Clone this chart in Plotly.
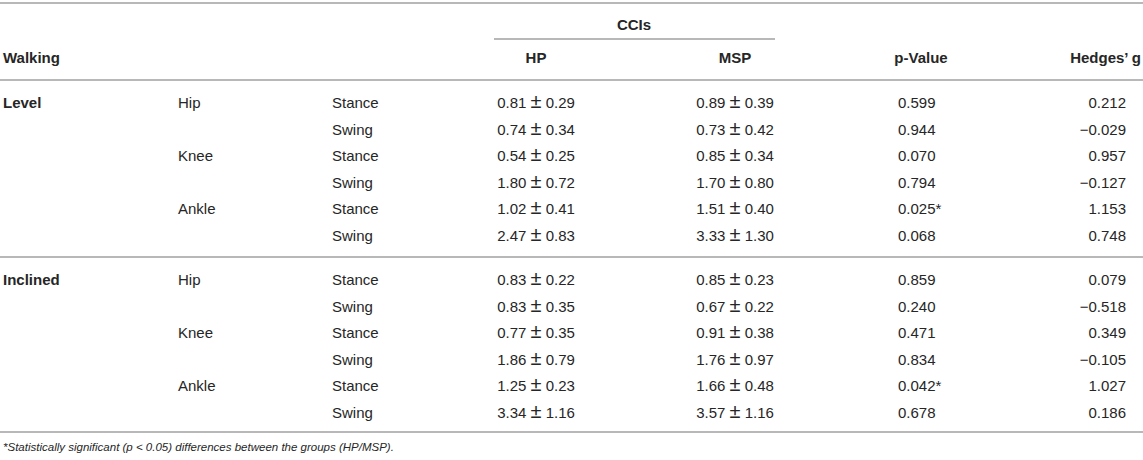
import plotly.graph_objects as go

# table content
groups = ["Level", "Inclined"]
joints = ["Hip", "", "Knee", "", "Ankle", ""]
phases = ["Stance", "Swing", "Stance", "Swing", "Stance", "Swing"]

hp_mean = [[0.81, 0.74, 0.54, 1.80, 1.02, 2.47], [0.83, 0.83, 0.77, 1.86, 1.25, 3.34]]
hp_sd = [[0.29, 0.34, 0.25, 0.72, 0.41, 0.83], [0.22, 0.35, 0.35, 0.79, 0.23, 1.16]]
msp_mean = [[0.89, 0.73, 0.85, 1.70, 1.51, 3.33], [0.85, 0.67, 0.91, 1.76, 1.66, 3.57]]
msp_sd = [[0.39, 0.42, 0.34, 0.80, 0.40, 1.30], [0.23, 0.22, 0.38, 0.97, 0.48, 1.16]]
p_values = [[0.599, 0.944, 0.070, 0.794, 0.025, 0.068], [0.859, 0.240, 0.471, 0.834, 0.042, 0.678]]
hedges_g = [[0.212, -0.029, 0.957, -0.127, 1.153, 0.748], [0.079, -0.518, 0.349, -0.105, 1.027, 0.186]]

footnote = "*Statistically significant (p < 0.05) differences between the groups (HP/MSP)."

W, H = 1143, 460
FONT = "Liberation Sans, Arial, Helvetica, sans-serif"
TXT = "#262626"
LINE = "#b8b8b8"
FS = 15

# layout of the rows / columns (window pixel coords)
group_top = [104.5, 281.5]
row_step = 26.5
head_y, cci_y = 59, 26
col = dict(walk=3, joint=178, phase=332, hp=536, msp=735, p=898, p_head=921, g=1126, g_head=1141)


def fmt(v):
    s = f"{abs(v):.3f}"
    return ("\u2212" + s) if v < 0 else s


def pm(m, s):
    # the ± in the source is drawn a bit larger than the digits
    return f"{m:.2f} <span style='font-size:20px'>\u00b1</span> {s:.2f}"


fig = go.Figure()


def add_text(xs, ys, texts, pos, size=FS, bold=False, italic=False):
    fig.add_trace(go.Scatter(
        x=xs, y=ys, text=texts, mode="text", textposition=pos, cliponaxis=False,
        textfont=dict(family=FONT, size=size, color=TXT,
                      weight="bold" if bold else "normal",
                      style="italic" if italic else "normal"),
        hoverinfo="skip", showlegend=False))


# header
add_text([col["walk"]], [head_y], ["Walking"], "middle right", bold=True)
add_text([634], [cci_y], ["CCIs"], "middle center", bold=True)
add_text([col["hp"], col["msp"], col["p_head"]], [head_y] * 3, ["HP", "MSP", "p-Value"], "middle center", bold=True)
add_text([col["g_head"]], [head_y], ["Hedges\u2019 g"], "middle left", bold=True)

for gi, grp in enumerate(groups):
    ys = [group_top[gi] + i * row_step for i in range(len(phases))]
    add_text([col["walk"]], [ys[0]], [grp], "middle right", bold=True)
    add_text([col["joint"]] * 6, ys, joints, "middle right")
    add_text([col["phase"]] * 6, ys, phases, "middle right")
    add_text([col["hp"]] * 6, ys, [pm(m, s) for m, s in zip(hp_mean[gi], hp_sd[gi])], "middle center")
    add_text([col["msp"]] * 6, ys, [pm(m, s) for m, s in zip(msp_mean[gi], msp_sd[gi])], "middle center")
    add_text([col["p"]] * 6, ys,
             [f"{p:.3f}" + ("*" if p < 0.05 else "") for p in p_values[gi]], "middle right")
    add_text([col["g"]] * 6, ys, [fmt(g) for g in hedges_g[gi]], "middle left")

add_text([col["walk"]], [448], [footnote], "middle right", size=11.5, italic=True)

# rules
for y0, x0, x1 in [(3, 0, W), (39, 494, 775), (80, 0, W), (257, 0, W), (432, 0, W)]:
    fig.add_shape(type="line", x0=x0, x1=x1, y0=y0, y1=y0, xref="x", yref="y",
                  line=dict(color=LINE, width=2))

fig.update_layout(
    width=W, height=H, margin=dict(l=0, r=0, t=0, b=0),
    paper_bgcolor="white", plot_bgcolor="white",
    xaxis=dict(range=[0, W], visible=False, fixedrange=True),
    yaxis=dict(range=[H, 0], visible=False, fixedrange=True),
)

# drop the default page margin so the figure fills the window
fig.write_html("out.html", config={"displayModeBar": False},
               post_script="document.body.style.margin='0';document.body.style.overflow='hidden';")
